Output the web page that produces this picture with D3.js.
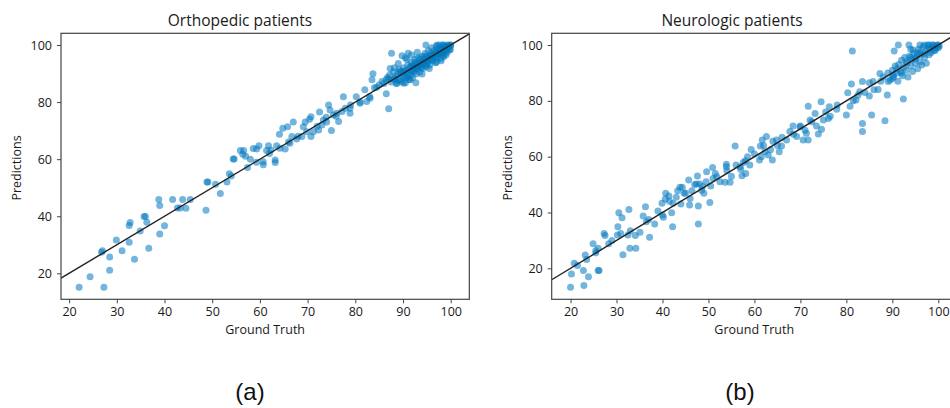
<!DOCTYPE html>
<html><head><meta charset="utf-8">
<script src="https://cdn.jsdelivr.net/npm/d3@7"></script>
<style>
body{margin:0;background:#fff;}
svg{display:block;}
.tick text{font-family:"Open Sans",sans-serif;font-size:12.5px;fill:#1a1a1a;}
</style></head>
<body><svg id="c" width="950" height="408"></svg>
<script>
// ---- Data: Orthopedic patients ----
const orthoGT = [22.1,24.4,27.3,28.5,28.5,26.8,27.0,29.9,31.1,32.6,32.6,32.8,33.7,34.9,35.7,36.0,36.3,36.7,38.8,39.0,39.0,40.0,41.7,42.7,43.3,43.8,44.5,45.4,48.7,48.9,49.1,50.7,51.7,53.1,53.6,54.0,54.4,54.6,55.9,56.6,56.4,57.4,58.6,59.3,59.8,59.3,60.7,60.7,61.4,61.8,62.3,63.2,63.2,63.5,64.2,64.1,64.8,65.3,65.8,66.3,67.0,66.7,67.7,68.8,69.1,69.5,69.8,70.4,70.7,70.7,71.2,72.3,72.5,73.0,73.3,73.9,74.4,74.7,75.0,75.4,76.1,76.5,77.2,77.9,77.5,78.9,78.9,80.2,81.0,82.0,82.4,83.1,83.5,83.7,84.5,85.6,86.5,87.0,86.8,87.6,87.3,88.0,88.7,89.4,89.8,90.8,91.1,90.1,91.5,92.2,94.8,97.1,98.5,99.5,99.9,98.5,
86.5,87.2,87.5,88.0,88.3,88.6,88.9,89.2,89.4,89.7,89.9,90.1,90.3,90.5,90.6,90.8,91.0,91.1,91.3,91.5,91.6,91.8,91.9,92.0,92.2,92.3,92.5,92.6,92.8,92.9,93.0,93.2,93.3,93.5,93.6,93.8,93.9,94.0,94.2,94.3,94.5,94.6,94.8,94.9,95.0,95.2,95.3,95.5,95.6,95.8,95.9,96.0,96.2,96.3,96.5,96.6,96.8,96.9,97.0,97.2,97.3,97.5,97.6,97.8,97.9,98.0,98.2,98.3,98.5,98.6,98.8,99.0,99.2,99.3,99.5,99.7,99.8,100.0,88.2,89.0,90.5,91.8,93.0,92.7,94.0,95.5,97.0,99.0,98.0,
88.5,89.5,90.2,91.0,91.7,92.4,93.1,93.7,94.4,95.1,95.7,96.4,97.1,97.7,98.4,99.1,86.0,87.0,84.0,85.0,89.0,90.0,91.0,92.0,93.0,94.0,95.0,96.0,97.0,98.0,99.0,100.0,94.5,93.5,92.5,57.0,58.0,62.0,66.0,68.0,72.0,74.0,76.0,79.0,81.0,83.0];
const orthoPred = [15.1,18.8,15.1,21.1,25.7,27.4,27.9,31.7,27.9,30.9,36.8,37.8,24.9,34.8,39.9,39.9,37.9,28.8,45.9,43.8,33.8,36.7,45.9,42.9,42.9,45.9,42.8,45.9,42.1,52.0,52.0,51.2,48.0,52.0,54.9,54.1,60.1,60.1,63.0,63.0,61.7,57.1,63.7,63.6,64.7,58.9,59.1,58.0,63.0,64.7,63.2,59.7,58.8,64.7,63.8,68.7,70.8,63.6,71.4,65.6,73.0,67.9,67.1,67.9,71.4,73.0,69.6,74.0,74.9,67.9,69.6,70.2,76.5,72.0,73.7,74.7,79.0,77.2,70.0,75.5,76.1,73.2,76.7,77.8,81.9,76.1,77.8,81.9,79.6,84.3,80.2,81.3,87.8,89.9,85.2,87.2,82.9,77.7,88.7,97.1,91.8,88.0,86.6,90.7,96.2,95.0,97.1,86.6,87.8,92.4,100.0,100.0,100.0,99.4,98.3,95.9,
88.0,89.5,87.0,90.5,88.2,86.5,89.8,91.5,88.0,87.2,90.2,92.0,89.0,86.8,91.0,88.5,93.0,90.0,87.8,92.2,89.5,94.0,91.0,88.5,93.0,90.5,95.0,92.0,89.8,93.5,91.5,95.5,92.8,90.5,94.0,92.0,96.0,93.5,91.8,95.0,93.0,97.0,94.5,92.5,96.0,94.0,98.0,95.5,93.0,97.0,95.0,99.0,96.5,94.5,98.0,96.0,93.8,97.5,99.5,95.5,98.5,96.8,100.0,97.5,95.2,99.0,97.0,100.0,98.0,96.5,99.5,98.0,100.0,97.5,99.0,100.0,98.5,99.8,92.0,93.5,95.5,96.5,97.5,86.8,89.8,91.8,94.0,96.5,94.5,
89.0,90.5,90.8,91.2,92.5,91.8,93.0,93.6,94.2,95.0,96.2,96.8,97.0,98.2,98.8,99.2,86.5,88.0,85.0,86.0,87.5,89.0,89.0,91.0,92.0,93.0,93.5,95.0,96.0,97.5,99.0,100.0,96.0,95.0,94.0,61.0,60.0,62.0,66.0,68.0,71.5,73.0,75.0,79.0,80.0,82.0];

// ---- Data: Neurologic patients ----
const neuroGT = [20.0,20.2,20.8,22.8,22.9,23.2,23.5,23.9,24.9,25.5,26.0,26.2,26.0,27.3,27.5,28.3,30.3,30.5,30.2,30.9,31.2,31.4,32.5,32.7,32.9,34.2,34.1,35.1,35.8,36.3,36.5,37.2,38.3,39.9,40.0,40.2,40.7,40.6,41.4,42.0,42.2,42.3,43.3,43.8,44.3,44.7,45.7,45.9,46.4,47.6,47.4,47.8,47.8,48.1,48.7,49.0,49.6,50.3,50.9,51.0,51.8,53.6,53.9,53.9,54.7,55.8,56.9,57.6,57.3,58.1,58.5,59.3,61.1,61.3,61.7,62.3,62.6,63.0,63.9,64.8,65.4,65.9,67.7,68.4,69.2,69.9,70.6,71.3,71.7,71.7,72.1,73.2,73.9,74.6,74.5,75.0,76.3,76.1,77.9,80.0,80.3,81.3,81.1,80.8,82.1,82.9,83.5,83.5,83.5,85.0,85.5,85.8,86.9,87.3,88.4,88.9,89.1,90.2,90.4,91.3,92.4,93.6,94.5,
89.5,90.0,90.3,90.6,90.9,91.2,91.4,91.7,92.0,92.2,92.5,92.7,93.0,93.2,93.4,93.7,94.0,94.2,94.4,94.7,95.0,95.2,95.5,95.7,96.0,96.2,96.4,96.7,97.0,97.2,97.4,97.7,98.0,98.2,98.4,98.7,99.0,99.2,99.5,99.8,100.0,96.0,97.0,98.0,99.0,100.0,99.3,100.2,95.5,94.0,
41.5,43.0,44.0,45.0,46.0,47.0,48.5,49.5,50.5,51.5,52.5,54.0,55.0,56.0,57.0,58.0,59.0,60.0,61.5,62.0,63.5,64.0,65.0,66.0,67.0,68.5,70.0,71.0,72.5,73.5,75.5,76.5,78.0,81.5,82.5,84.0,85.0,86.0,87.5,88.0,89.0,90.0,91.0,92.0,93.0,94.0,95.0,96.0,97.0,98.0,33.0,29.0,37.0,39.0,25.5,21.5];
const neuroPred = [13.2,18.0,21.8,19.2,13.8,24.8,23.2,17.0,28.8,26.3,19.2,19.2,27.2,32.5,31.8,28.8,34.9,39.9,31.9,32.5,38.1,24.9,31.9,41.1,27.2,27.2,31.8,32.9,38.7,42.1,36.7,31.1,35.9,43.3,39.1,38.3,46.9,44.8,45.9,39.9,34.9,43.3,47.8,49.0,49.0,46.9,51.6,42.7,47.8,53.1,50.2,42.3,35.9,50.2,49.3,46.9,54.6,43.6,56.1,52.2,52.8,50.8,56.4,57.3,50.8,63.8,56.4,57.9,53.2,54.0,60.0,62.6,58.8,63.8,66.0,61.8,67.2,60.6,58.8,66.0,61.8,63.8,69.0,71.0,67.2,70.7,66.0,68.4,78.1,66.0,73.1,75.5,68.1,69.8,79.7,73.1,77.9,73.7,77.0,74.9,82.9,97.9,86.0,78.1,80.3,83.3,71.9,69.0,86.9,81.7,74.9,86.9,84.1,89.8,72.9,82.1,86.9,89.3,97.9,100.0,80.7,100.0,98.2,
87.5,91.0,88.5,92.5,90.0,87.0,93.0,90.5,94.5,89.0,92.0,95.5,91.0,93.5,88.5,96.0,92.5,94.8,90.5,97.0,93.5,95.8,91.5,98.5,94.0,96.5,92.8,99.5,95.5,97.8,93.5,100.0,96.5,99.0,97.2,100.0,98.0,99.5,98.8,100.0,99.0,100.0,100.0,100.0,100.0,100.0,98.0,99.6,97.0,98.5,
44.0,45.5,43.0,47.0,45.0,50.0,48.0,51.0,49.5,54.0,51.0,55.0,53.0,57.0,55.5,58.5,57.0,61.0,60.0,64.0,62.5,65.5,64.0,67.0,66.0,68.0,71.0,69.5,72.5,71.0,76.0,74.5,78.5,80.0,82.0,83.0,86.5,84.0,87.0,88.5,90.0,88.0,91.5,90.0,94.0,95.5,95.0,97.5,97.0,98.5,33.5,30.0,37.5,40.5,25.5,21.0];

const xTicks = [20,30,40,50,60,70,80,90,100];
const yTicks = [20,40,60,80,100];
const titles = ["Orthopedic patients","Neurologic patients"];
const panelLabels = ["(a)","(b)"];

const panels = [
  {gt:orthoGT, pred:orthoPred, xd:[18.3,103.9], yd:[10.9,104.1], x0:61, x1:469.3, titleX:240, lab:250},
  {gt:neuroGT, pred:neuroPred, xd:[15.9,104.0], yd:[8.9,104.2], x0:551.7, x1:956.7, titleX:732, lab:740}
];
const y0 = 299.3, y1 = 33.3;
const svg = d3.select("#c");

panels.forEach((p,i)=>{
  const x = d3.scaleLinear().domain(p.xd).range([p.x0,p.x1]);
  const y = d3.scaleLinear().domain(p.yd).range([y0,y1]);
  const g = svg.append("g");
  const cid = "clip"+i;
  svg.append("clipPath").attr("id",cid).append("rect")
    .attr("x",p.x0).attr("y",y1).attr("width",p.x1-p.x0).attr("height",y0-y1);

  const pts = p.gt.map((v,k)=>[v,p.pred[k]]);
  g.append("g").attr("clip-path",`url(#${cid})`).selectAll("circle").data(pts).join("circle")
    .attr("cx",d=>x(d[0])).attr("cy",d=>y(d[1])).attr("r",3.5)
    .attr("fill","#0079bf").attr("fill-opacity",0.55);

  const lo = p.xd[0], hi = p.xd[1];
  g.append("line").attr("clip-path",`url(#${cid})`)
    .attr("x1",x(lo)).attr("y1",y(lo)).attr("x2",x(hi)).attr("y2",y(hi))
    .attr("stroke","#222").attr("stroke-width",1.4);

  const xa = g.append("g").attr("transform",`translate(0,${y0})`)
    .call(d3.axisBottom(x).tickValues(xTicks).tickSize(4).tickPadding(4));
  const ya = g.append("g").attr("transform",`translate(${p.x0},0)`)
    .call(d3.axisLeft(y).tickValues(yTicks).tickSize(4).tickPadding(5));
  [xa,ya].forEach(a=>{a.select(".domain").remove(); a.selectAll("line").attr("stroke","#444");});

  g.append("rect").attr("x",p.x0).attr("y",y1).attr("width",p.x1-p.x0).attr("height",y0-y1)
    .attr("fill","none").attr("stroke","#444").attr("stroke-width",1.2);

  g.append("text").attr("x",p.titleX).attr("y",26).attr("text-anchor","middle")
    .style("font-family","'Open Sans',sans-serif").style("font-size","15.5px").attr("fill","#1a1a1a")
    .text(titles[i]);
  g.append("text").attr("x",(p.x0+p.x1)/2).attr("y",334).attr("text-anchor","middle")
    .style("font-family","'Open Sans',sans-serif").style("font-size","12.5px").attr("fill","#1a1a1a")
    .text("Ground Truth");
  g.append("text").attr("transform",`translate(${p.x0-40},168) rotate(-90)`).attr("text-anchor","middle")
    .style("font-family","'Open Sans',sans-serif").style("font-size","12.5px").attr("fill","#1a1a1a")
    .text("Predictions");
  g.append("text").attr("x",p.lab).attr("y",400).attr("text-anchor","middle")
    .style("font-family","'Liberation Sans',Arial,sans-serif").style("font-size","24px").attr("fill","#111")
    .text(panelLabels[i]);
});
</script></body></html>
